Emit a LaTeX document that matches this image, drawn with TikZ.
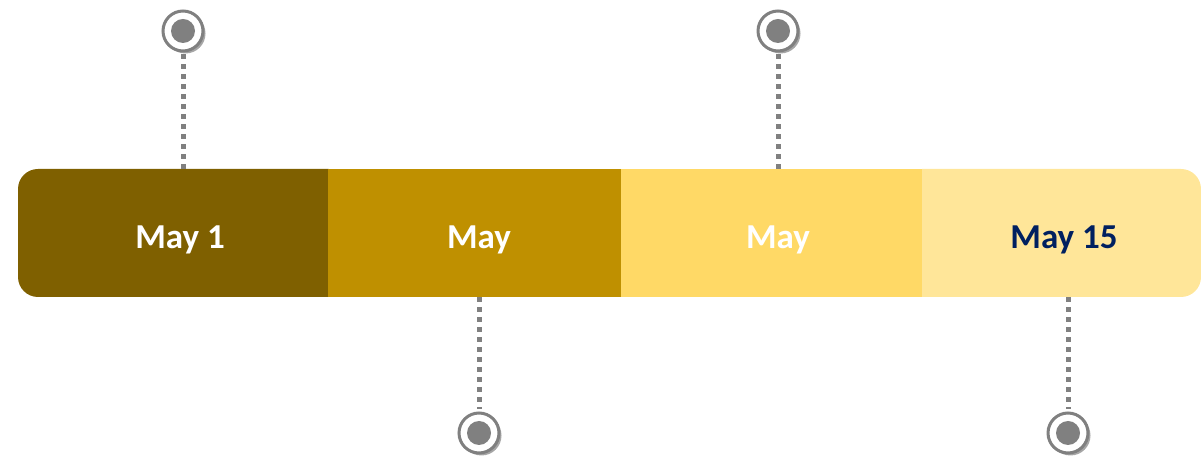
\documentclass[tikz,border=0pt]{standalone}
\usepackage{fontspec}
\setmainfont{Carlito}
\usetikzlibrary{shadows}
\definecolor{segA}{HTML}{7F6000}
\definecolor{segB}{HTML}{BF9000}
\definecolor{segC}{HTML}{FFD966}
\definecolor{segD}{HTML}{FFE699}
\definecolor{navy}{HTML}{002060}
\definecolor{pingray}{HTML}{808080}
\tikzset{
  pinring/.style={circle, minimum size=40pt, inner sep=0pt, draw=pingray, line width=3pt, fill=white,
    drop shadow={shadow xshift=2.5pt, shadow yshift=-2.5pt, opacity=0.35, fill=black}},
  dotline/.style={draw=pingray, line width=5pt, dash pattern=on 5pt off 5pt},
  segbox/.style={rectangle, inner sep=0pt, minimum height=128pt},
  label/.style={font=\bfseries\fontsize{35}{40}\selectfont, text=white},
}
\begin{document}
\begin{tikzpicture}[x=1pt,y=1pt]
\useasboundingbox (0,0) rectangle (1201,457);
% segments
\fill[segA] (328.5,288) -- (38,288) arc[start angle=90,end angle=180,radius=20] -- (18,180) arc[start angle=180,end angle=270,radius=20] -- (328.5,160) -- cycle;
\fill[segB] (328,160) rectangle (621.5,288);
\fill[segC] (621,160) rectangle (922.5,288);
\fill[segD] (922,160) -- (1181,160) arc[start angle=-90,end angle=0,radius=20] -- (1201,268) arc[start angle=0,end angle=90,radius=20] -- (922,288) -- cycle;
\node[segbox, minimum width=310pt] (s1) at (173,224) {};
\node[segbox, minimum width=293pt] (s2) at (474.5,224) {};
\node[segbox, minimum width=301pt] (s3) at (771.5,224) {};
\node[segbox, minimum width=279pt] (s4) at (1061.5,224) {};
\node[label] (t1) at (180,217) {May 1};
\node[label] (t2) at (479,217) {May};
\node[label] (t3) at (778,217) {May};
\node[label, text=navy] (t4) at (1064,217) {May 15};
% pins
\node[pinring] (p1) at (183,426) {};
\node[pinring] (p2) at (778,426) {};
\node[pinring] (p3) at (479,24) {};
\node[pinring] (p4) at (1068,24) {};
\foreach \p in {p1,p2,p3,p4} \fill[pingray] (\p) circle (12);
% connectors
\draw[dotline] (p1.south) ++(0,-2) -- (p1.south |- s1.north);
\draw[dotline] (p2.south) ++(0,-2) -- (p2.south |- s3.north);
\draw[dotline] (s2.south -| p3.north) -- ([yshift=2pt]p3.north);
\draw[dotline] (s4.south -| p4.north) -- ([yshift=2pt]p4.north);
\end{tikzpicture}
\end{document}
